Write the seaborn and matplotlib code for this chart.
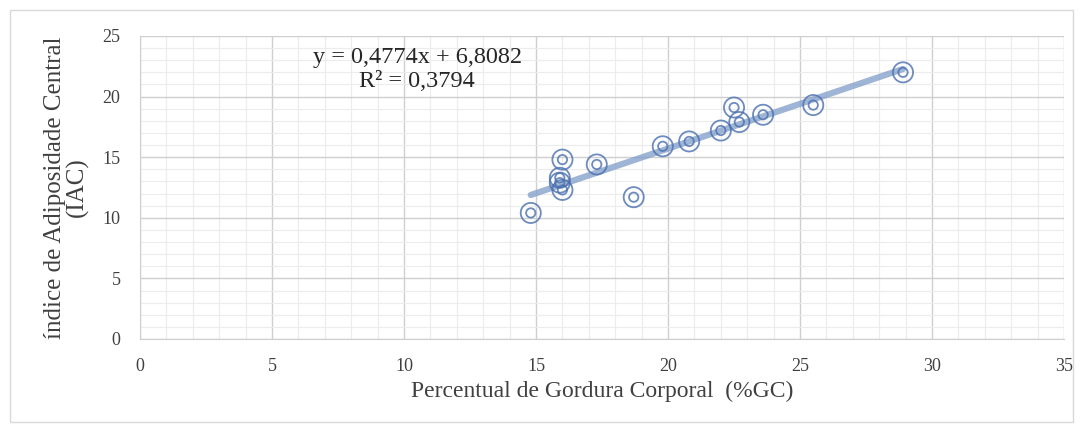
import matplotlib
matplotlib.use("Agg")
import matplotlib.pyplot as plt
import seaborn as sns
import pandas as pd
from matplotlib.ticker import MultipleLocator
from matplotlib.patches import Rectangle

# %GC (x) and IAC (y)
gordura = [14.8, 16.0, 15.9, 15.9, 16.0, 17.3, 18.7, 19.8, 20.8, 22.0, 22.5, 22.7, 23.6, 25.5, 28.9]
iac = [10.4, 14.8, 13.3, 12.9, 12.3, 14.4, 11.7, 15.9, 16.3, 17.2, 19.1, 17.9, 18.5, 19.3, 22.0]

equation = "y = 0,4774x + 6,8082\nR² = 0,3794"
x_label = "Percentual de Gordura Corporal  (%GC)"
y_label = "índice de Adiposidade Central\n(IAC)"

df = pd.DataFrame({"gc": gordura, "iac": iac})

sns.set_style("white")
plt.rcParams["font.family"] = ["Liberation Serif", "DejaVu Serif"]

fig = plt.figure(figsize=(10.83, 4.32), dpi=100)
ax = fig.add_axes([0.1293, 0.2153, 0.8532, 0.7014])

# chart area border
fig.patches.append(Rectangle((0.009, 0.023), 0.982, 0.955, transform=fig.transFigure,
                             fill=False, edgecolor="#d9d9d9", linewidth=1.0))

sns.regplot(data=df, x="gc", y="iac", ax=ax, ci=None, scatter=False,
            line_kws={"color": "#7f9cc9", "linewidth": 4.5, "alpha": 0.75, "zorder": 2})
sns.scatterplot(data=df, x="gc", y="iac", ax=ax, s=210, facecolor="none",
                edgecolor="#4a6fae", linewidth=1.3, alpha=0.8, zorder=3)
sns.scatterplot(data=df, x="gc", y="iac", ax=ax, s=45, facecolor="none",
                edgecolor="#4a6fae", linewidth=1.3, alpha=0.8, zorder=3)

ax.set_xlim(0, 35)
ax.set_ylim(0, 25)
ax.xaxis.set_major_locator(MultipleLocator(5))
ax.yaxis.set_major_locator(MultipleLocator(5))
ax.xaxis.set_minor_locator(MultipleLocator(1))
ax.yaxis.set_minor_locator(MultipleLocator(1))
ax.grid(True, which="major", color="#cfcfcf", linewidth=1.0)
ax.grid(True, which="minor", color="#ececec", linewidth=0.8)
ax.set_axisbelow(True)
for side, sp in ax.spines.items():
    sp.set_visible(side in ("left", "bottom"))
    sp.set_color("#cfcfcf")
ax.tick_params(axis="both", which="both", length=0, labelsize=13, colors="#404040")
ax.tick_params(axis="x", pad=14)
ax.tick_params(axis="y", pad=14)

ax.set_xlabel(x_label, fontsize=17, color="#404040", labelpad=4)
ax.set_ylabel(y_label, fontsize=18, color="#404040", labelpad=10, linespacing=0.95)

ax.text(10.5, 22.25, equation, ha="center", va="center", fontsize=17.5,
        color="#262626", linespacing=1.2)

fig.savefig("out.png", dpi=100)
